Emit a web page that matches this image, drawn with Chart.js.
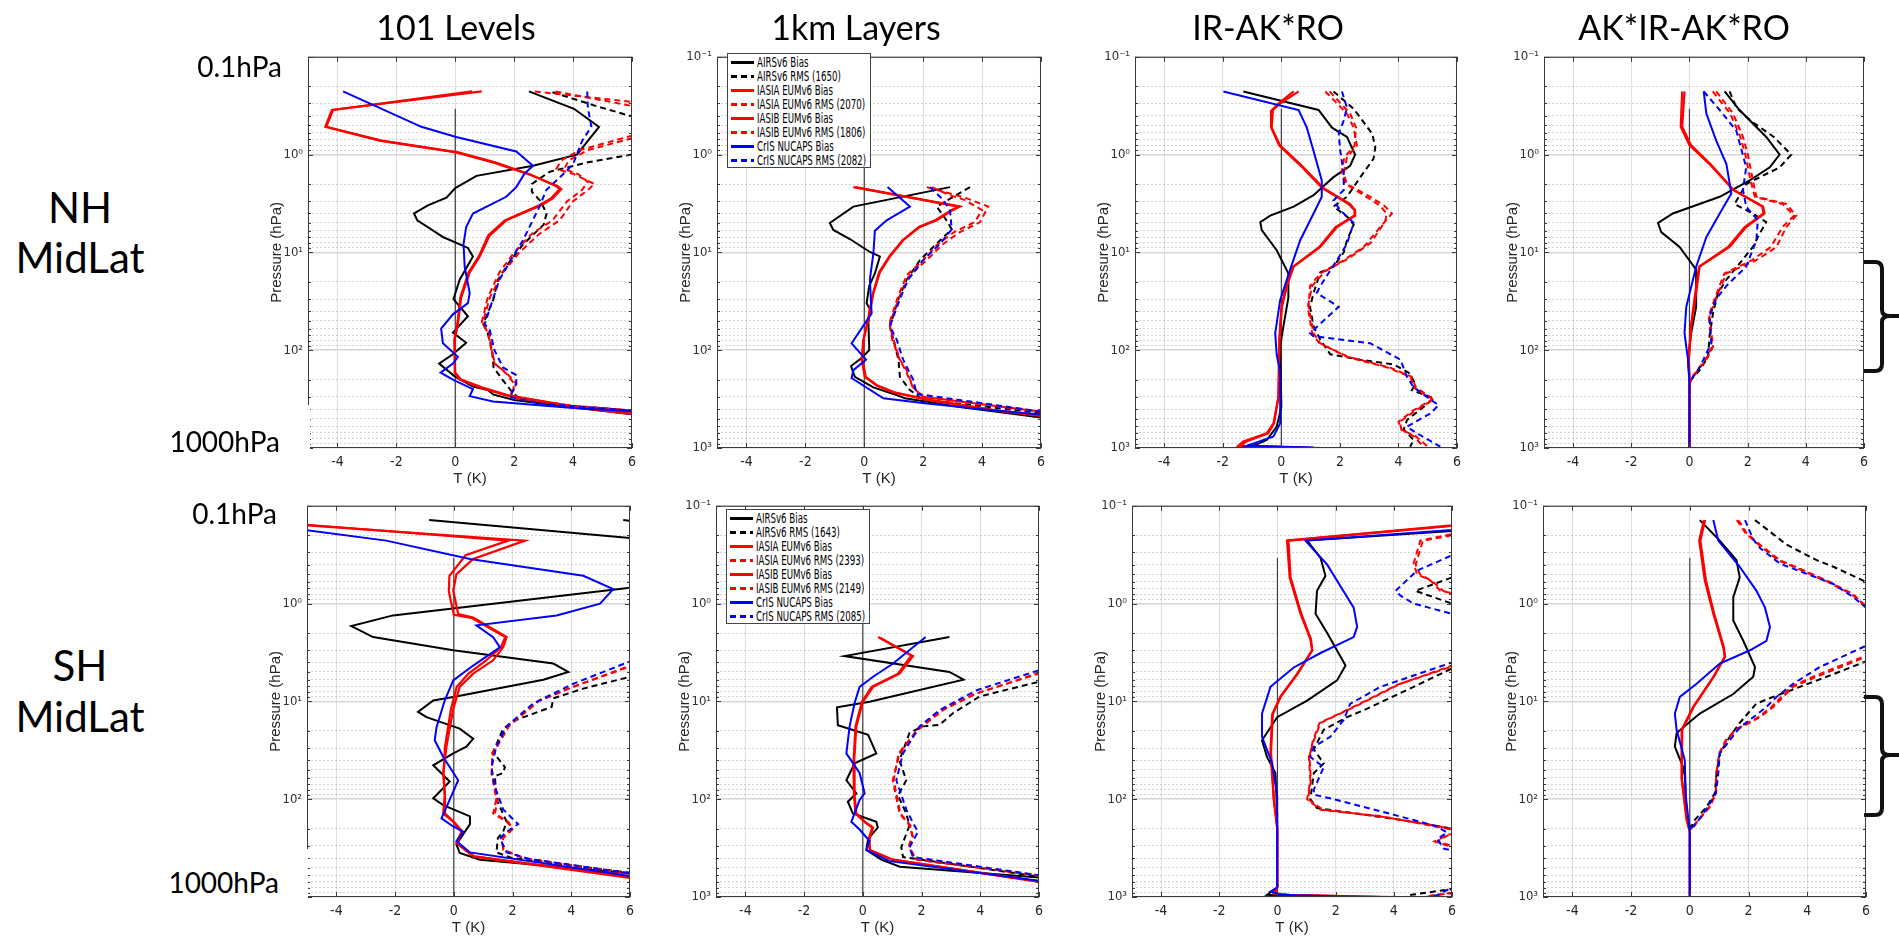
<!DOCTYPE html>
<html lang="en">
<head>
<meta charset="UTF-8">
<title>Temperature Bias and RMS Profiles</title>
<script src="https://cdn.jsdelivr.net/npm/chart.js"></script>
<style>
  body { margin: 0; background: #fff; }
  #fig { position: relative; width: 1899px; height: 938px; overflow: hidden; font-family: Lato, 'Open Sans', sans-serif; }
  .lbl { position: absolute; color: #000; white-space: nowrap; line-height: 1; z-index: 3; }
  .colTitle { font-size: 34px; transform: translate(-50%, -50%); }
  .rowLbl { font-size: 42px; transform: translate(-50%, -50%); }
  .hpa { font-size: 28px; transform: translate(-100%, -50%); background: #fff; }
  .cover { position: absolute; background: #fff; z-index: 2; }
  .legend { position: absolute; width: 144px; height: 115px; box-sizing: border-box; border: 1.5px solid #444; background: #fff; z-index: 4; padding-top: 1px; }
  .lrow { height: 14px; position: relative; }
  .sw { position: absolute; left: 3px; top: 6px; width: 23px; height: 2.5px; }
  .ltxt { position: absolute; left: 29px; top: 0; line-height: 14px; font-size: 13.5px; color: #000; white-space: nowrap; transform-origin: 0 50%;
          font-family: 'Liberation Sans Narrow', 'Arial Narrow', 'DejaVu Sans Condensed', 'Liberation Sans', sans-serif; }
  svg.br { position: absolute; left: 0; top: 0; z-index: 5; }
</style>
</head>
<body>
<div id="fig"></div>

<script>
  // ---- data: [T (K), pressure (hPa)] pairs ----
  const xTicks = [-4, -2, 0, 2, 4, 6];
  const seriesNames = ['AIRSv6 Bias', 'AIRSv6 RMS', 'IASIA EUMv6 Bias', 'IASIA EUMv6 RMS',
                       'IASIB EUMv6 Bias', 'IASIB EUMv6 RMS', 'CrIS NUCAPS Bias', 'CrIS NUCAPS RMS'];
  const nhCounts = [null, 1650, null, 2070, null, 1806, null, 2082];
  const shCounts = [null, 1643, null, 2393, null, 2149, null, 2085];
  const columnTitles = ['101 Levels', '1km Layers', 'IR-AK*RO', 'AK*IR-AK*RO'];
  const zeroLine = [[0, 0.34], [0, 1000]];

  // NH MidLat, 101 Levels
  const nhLevAirsBias = [[2.5,0.226],[4.03,0.34],[4.88,0.52],[4.13,1.0],[2.64,1.3],[0.72,1.65],[0.0,2.2],[-0.3,2.75],[-0.93,3.3],[-1.4,4.0],[-1.29,4.7],[-0.4,7.0],[0.43,9.0],[0.6,11],[0.15,19],[-0.06,30],[0.43,45],[-0.08,66],[0.37,84],[-0.08,110],[-0.55,137],[-0.02,185],[0.6,235],[1.1,255],[1.3,285],[2.0,323],[4.0,385],[6.5,470]];
  const nhLevAirsRms = [[3.3,0.23],[4.8,0.32],[6.5,0.45],[7.5,0.7],[6.0,1.0],[4.5,1.2],[3.2,1.5],[2.6,2.0],[2.6,2.4],[2.9,3.0],[3.1,4.0],[3.0,5.2],[2.3,8.3],[1.8,13],[1.45,19],[1.3,30],[0.95,54],[1.1,67],[1.25,100],[1.3,150],[1.6,200],[1.9,260],[2.2,320],[4.0,375],[6.5,430]];
  const nhLevIasiaBias = [[0.9,0.226],[-4.19,0.35],[-4.41,0.52],[-2.57,0.72],[0.03,0.95],[1.28,1.2],[2.52,1.6],[3.48,2.1],[3.6,2.25],[3.31,2.8],[2.92,3.3],[1.73,4.7],[1.17,6.7],[0.83,11],[0.49,16],[0.2,29],[0.09,54],[-0.02,78],[-0.02,170],[0.15,200],[0.83,240],[1.73,290],[4.0,380],[6.5,470]];
  const nhLevIasiaRms = [[2.7,0.226],[6.5,0.3],[8,0.45],[6.0,0.64],[4.22,0.9],[3.6,1.15],[3.43,1.4],[4.0,1.57],[4.73,2.0],[4.5,2.3],[4.0,3.0],[3.54,4.7],[2.86,6.45],[2.18,10],[1.62,16],[1.17,29],[0.94,52],[1.17,67],[1.22,92],[1.33,137],[1.73,170],[2.07,219],[1.9,280],[2.07,310],[4.0,370],[6.5,425]];
  const nhLevIasibBias = [[0.57,0.226],[-4.15,0.35],[-4.38,0.52],[-2.5,0.72],[0.1,0.95],[1.35,1.2],[2.55,1.6],[3.42,2.1],[3.55,2.25],[3.25,2.8],[2.85,3.3],[1.68,4.7],[1.12,6.7],[0.8,11],[0.45,16],[0.17,29],[0.07,54],[-0.03,78],[0.0,170],[0.2,200],[0.9,240],[1.8,290],[4.1,380],[6.5,465]];
  const nhLevIasibRms = [[3.4,0.226],[6.5,0.34],[8,0.5],[6.0,0.68],[4.5,0.9],[3.85,1.15],[3.7,1.4],[4.2,1.6],[4.5,1.9],[4.3,2.3],[3.8,3.0],[3.3,4.7],[2.6,6.45],[2.0,10],[1.5,16],[1.1,29],[0.9,52],[1.12,67],[1.2,92],[1.35,137],[1.7,170],[2.0,219],[1.95,280],[2.1,310],[4.0,370],[6.5,425]];
  const nhLevCrisBias = [[-3.81,0.226],[-2.91,0.3],[-1.15,0.52],[0.03,0.66],[2.07,0.93],[2.64,1.3],[2.35,1.57],[2.07,2.15],[1.73,2.7],[0.6,4.0],[0.37,5.5],[0.28,8.2],[0.32,14],[0.49,26],[0.43,33],[-0.08,43],[-0.48,60],[-0.42,85],[0.09,117],[-0.08,137],[-0.5,170],[-0.08,200],[0.6,250],[0.49,295],[1.28,335],[4.0,390],[6.5,430]];
  const nhLevCrisRms = [[4.48,0.226],[4.5,0.33],[4.62,0.52],[4.31,0.72],[4.0,1.25],[3.65,1.6],[3.09,2.3],[2.86,3.4],[2.3,7.5],[1.96,11],[1.5,19],[1.28,30],[1.0,54],[1.17,62],[1.33,100],[1.62,150],[2.07,180],[2.07,225],[1.84,300],[2.86,350],[6.5,425]];

  // NH MidLat, 1km Layers
  const nhLayAirsBias = [[2.91,2.15],[-0.37,3.4],[-1.17,5.0],[-1.05,5.9],[-0.49,7.3],[0.19,9.9],[0.53,11],[0.36,16.4],[0.17,22],[0.08,33],[0.19,38],[0.14,53],[0.17,100],[-0.09,120],[-0.45,145],[-0.32,187],[0.31,240],[0.99,280],[1.38,310],[3.25,380],[6.5,510]];
  const nhLayAirsRms = [[3.59,2.15],[2.46,3.4],[2.75,4.5],[2.97,5.8],[2.34,8.8],[1.89,12],[1.44,19],[1.16,30],[0.87,57],[0.99,78],[1.16,125],[1.21,187],[1.55,256],[2.0,320],[6.5,455]];
  const nhLayIasiaBias = [[-0.37,2.15],[3.25,3.4],[3.0,3.7],[2.46,4.7],[1.89,5.5],[1.32,7.5],[0.87,11],[0.53,16],[0.31,26],[0.14,49],[-0.03,78],[-0.09,125],[0.02,187],[0.42,230],[0.99,270],[2.12,320],[4.38,410],[6.5,490]];
  const nhLayIasiaRms = [[2.12,2.15],[2.91,2.5],[3.48,2.8],[4.21,3.4],[3.93,4.9],[3.25,6.2],[2.68,8.2],[2.12,12],[1.55,17],[1.21,28],[0.87,53],[0.99,78],[1.21,125],[1.44,160],[1.66,240],[2.0,300],[6.5,445]];
  const nhLayIasibBias = [[-0.3,2.15],[3.2,3.4],[2.95,3.7],[2.4,4.7],[1.85,5.5],[1.3,7.5],[0.85,11],[0.5,16],[0.3,26],[0.12,49],[-0.02,78],[-0.06,125],[0.05,187],[0.45,230],[1.02,270],[2.15,320],[4.4,410],[6.5,485]];
  const nhLayIasibRms = [[2.3,2.15],[2.9,2.6],[3.4,2.9],[4.0,3.7],[3.75,4.9],[3.05,6.2],[2.5,8.2],[2.0,12],[1.45,17],[1.15,28],[0.85,53],[0.95,78],[1.2,125],[1.4,160],[1.65,240],[2.0,300],[6.5,445]];
  const nhLayCrisBias = [[0.79,2.15],[1.55,3.4],[0.76,4.7],[0.36,6.0],[0.31,10.2],[0.19,19],[0.25,42],[-0.43,85],[0.06,125],[-0.37,160],[-0.43,193],[0.65,310],[2.12,350],[4.38,410],[6.5,470]];
  const nhLayCrisRms = [[2.23,2.15],[2.68,2.9],[2.91,3.7],[2.97,5.8],[2.57,8.2],[2.0,12],[1.49,19],[1.21,30],[0.87,57],[1.1,78],[1.32,125],[1.66,200],[1.78,280],[6.5,445]];

  // NH MidLat, IR-AK*RO
  const nhIrAirsBias = [[-1.3,0.226],[1.27,0.35],[1.73,0.53],[2.24,0.66],[2.52,1.0],[2.35,1.3],[1.78,1.7],[1.1,2.6],[0.42,3.4],[-0.38,4.2],[-0.72,4.9],[-0.67,5.9],[-0.16,9.5],[0.24,16.4],[0.24,29],[0.07,57],[-0.04,92],[0.0,380],[-0.16,606],[-0.5,828],[-0.95,950],[0.5,990],[1.4,1000]];
  const nhIrAirsRms = [[1.78,0.226],[2.47,0.34],[3.1,0.61],[3.21,0.84],[3.15,1.1],[2.7,1.7],[2.24,2.7],[1.78,3.4],[2.24,4.3],[2.47,5.2],[2.24,7.55],[2.13,10],[1.78,14],[1.33,16],[1.1,26],[0.98,36],[1.1,57],[1.33,78],[1.67,110],[2.7,125],[3.84,140],[4.35,170],[4.58,219],[4.46,256],[5.2,310],[4.86,380],[4.29,518],[4.18,650],[4.52,828],[4.4,970]];
  const nhIrIasiaBias = [[0.59,0.226],[-0.04,0.3],[-0.29,0.35],[-0.33,0.53],[-0.04,0.81],[0.64,1.25],[1.44,2.2],[2.35,3.2],[2.52,3.7],[2.52,4.2],[1.9,5.5],[1.33,8.8],[0.42,14],[0.19,22],[0.02,36],[-0.06,78],[-0.1,300],[-0.27,560],[-0.5,708],[-1.3,860],[-1.47,950],[0.0,980],[1.1,1000]];
  const nhIrIasiaRms = [[1.5,0.226],[2.24,0.38],[2.47,0.53],[2.58,0.81],[2.24,1.07],[2.13,1.57],[2.24,2.0],[3.04,2.7],[3.5,3.3],[3.78,4.0],[3.38,5.5],[2.81,8.8],[2.13,12],[1.33,16.4],[0.98,22],[0.93,36],[1.1,67],[1.33,85],[2.24,117],[3.61,150],[4.41,187],[4.52,240],[5.15,320],[4.52,410],[4.0,540],[4.12,650],[4.52,760],[4.86,970]];
  const nhIrIasibBias = [[0.42,0.226],[-0.1,0.3],[-0.32,0.35],[-0.35,0.53],[-0.07,0.81],[0.6,1.25],[1.4,2.2],[2.3,3.2],[2.5,3.7],[2.5,4.2],[1.85,5.5],[1.3,8.8],[0.4,14],[0.17,22],[0.0,36],[-0.07,78],[-0.1,300],[-0.25,560],[-0.45,708],[-1.2,860],[-1.4,950],[0.1,980],[1.0,1000]];
  const nhIrIasibRms = [[1.65,0.226],[2.35,0.38],[2.55,0.53],[2.5,0.81],[2.15,1.07],[2.05,1.57],[2.2,2.0],[2.9,2.7],[3.35,3.3],[3.6,4.0],[3.55,4.8],[3.05,8.0],[2.3,11.5],[1.5,15.5],[1.05,22],[0.9,36],[1.05,67],[1.3,85],[2.3,117],[3.7,150],[4.45,187],[4.6,240],[5.2,320],[4.6,410],[4.05,540],[4.1,650],[4.6,760],[5.0,970]];
  const nhIrCrisBias = [[-1.98,0.226],[0.59,0.35],[0.87,0.53],[1.1,0.92],[1.38,1.84],[1.38,2.7],[1.1,4.0],[0.64,7.55],[0.3,15],[-0.04,30.6],[-0.21,67],[-0.16,110],[-0.04,170],[-0.04,560],[-0.27,760],[-1.18,950],[1.1,990]];
  const nhIrCrisRms = [[2.07,0.226],[2.24,0.33],[2.13,0.45],[1.96,0.61],[2.01,0.9],[2.13,1.57],[2.13,2.3],[1.78,2.95],[2.01,3.7],[2.47,5.0],[2.24,8.2],[1.9,12],[1.33,22],[1.21,26],[1.96,36],[0.98,67],[1.1,72],[3.04,85],[4.07,125],[4.29,187],[4.52,240],[5.37,365],[5.09,443],[4.29,606],[4.63,708],[5.43,970]];

  // NH MidLat, AK*IR-AK*RO
  const nhAkAirsBias = [[1.21,0.226],[1.72,0.35],[2.64,0.66],[3.1,1.0],[2.76,1.35],[2.07,1.84],[1.04,2.7],[-0.57,4.0],[-1.08,5.0],[-0.97,6.2],[-0.34,8.8],[0.23,15],[0.23,36],[0.06,67],[-0.05,125],[0.0,200],[0.0,1000]];
  const nhAkAirsRms = [[1.38,0.226],[1.61,0.33],[2.1,0.45],[2.9,0.66],[3.5,1.0],[3.1,1.35],[1.95,2.0],[1.55,3.2],[2.18,4.0],[2.64,4.9],[2.41,6.45],[2.18,8.8],[1.72,13],[1.27,19],[0.98,26],[0.81,42],[0.69,72],[0.64,117],[0.35,160],[0.06,200]];
  const nhAkIasiaBias = [[-0.25,0.226],[-0.3,0.52],[0.0,0.8],[0.69,1.25],[1.5,2.3],[2.53,3.4],[2.58,4.0],[1.95,5.5],[1.38,8.8],[0.35,14],[0.23,26],[0.06,57],[-0.02,125],[0.0,200],[0.0,1000]];
  const nhAkIasiaRms = [[0.92,0.226],[1.5,0.38],[1.84,0.66],[2.01,1.0],[2.18,1.84],[2.3,2.7],[3.33,3.2],[3.67,4.2],[3.33,5.5],[2.99,8.8],[2.3,12],[1.27,16.4],[0.92,29],[0.69,45],[0.81,92],[0.58,125],[0.12,187],[0.0,219]];
  const nhAkIasibBias = [[-0.17,0.226],[-0.25,0.52],[0.05,0.8],[0.72,1.25],[1.52,2.3],[2.5,3.4],[2.55,4.0],[1.9,5.5],[1.33,8.8],[0.33,14],[0.2,26],[0.05,57],[-0.03,125],[0.0,200],[0.0,1000]];
  const nhAkIasibRms = [[0.8,0.226],[1.4,0.38],[1.75,0.66],[1.92,1.0],[2.1,1.84],[2.25,2.7],[3.2,3.2],[3.6,4.2],[3.2,5.5],[2.8,8.8],[2.15,12],[1.2,16.4],[0.88,29],[0.66,45],[0.78,92],[0.55,125],[0.1,187],[0.0,219]];
  const nhAkCrisBias = [[0.49,0.226],[0.58,0.38],[0.92,0.72],[1.27,1.25],[1.44,2.5],[1.04,4.0],[0.58,7.0],[0.23,14],[-0.11,36],[-0.17,67],[-0.05,125],[0.0,219],[0.0,1000]];
  const nhAkCrisRms = [[0.49,0.226],[1.04,0.35],[1.61,0.57],[1.95,1.35],[1.84,2.3],[1.95,3.4],[2.35,4.7],[2.3,7.55],[1.95,14],[1.27,22],[0.92,30],[0.69,45],[0.75,85],[0.35,150],[0.06,200]];

  // SH MidLat, 101 Levels
  const shLevAirsBias = [[-0.84,0.14],[6.0,0.214],[9,0.4],[6.0,0.69],[-2.07,1.32],[-3.49,1.7],[-2.75,2.2],[-0.02,3.0],[3.39,4.1],[3.9,5.0],[3.05,6.0],[-0.02,9.0],[-0.7,9.8],[-1.22,12.8],[-0.93,14.5],[0.2,19],[0.66,24],[0.43,29],[-0.02,34],[-0.7,45],[-0.14,66],[-0.7,98],[-0.36,115],[0.55,150],[0.55,180],[0.09,290],[0.2,355],[0.89,415],[6.5,590]];
  const shLevAirsRms = [[5.77,0.14],[7.5,0.16],[9,0.5],[9,2],[7.5,4.5],[6.0,5.6],[4.41,7.4],[3.39,9.3],[3.33,11.4],[2.14,15.4],[1.68,19],[1.34,33],[1.74,47],[1.68,54],[1.4,58],[1.45,100],[1.8,170],[1.68,215],[1.5,250],[1.45,350],[2.0,400],[6.5,590]];
  const shLevIasiaBias = [[-5.5,0.155],[2.42,0.227],[0.66,0.35],[0.09,0.5],[-0.02,0.74],[0.15,1.28],[0.66,1.39],[1.8,2.2],[1.68,2.8],[1.34,3.8],[0.66,5.2],[0.2,7.1],[-0.02,12],[-0.25,29],[-0.36,54],[-0.31,92],[-0.36,140],[-0.02,170],[0.26,215],[0.09,280],[0.66,385],[6.5,670]];
  const shLevIasiaRms = [[9,2],[7.5,3.6],[6.0,4.3],[4.07,7.1],[2.93,9.8],[1.9,17.5],[1.34,34],[1.28,54],[1.45,100],[1.34,140],[1.8,170],[2.02,200],[1.68,250],[1.68,330],[2.36,400],[6.5,610]];
  const shLevIasibBias = [[-5.5,0.152],[1.85,0.227],[0.4,0.32],[-0.15,0.52],[-0.17,0.75],[0.0,1.3],[0.6,1.4],[1.75,2.2],[1.6,2.8],[1.1,3.8],[0.5,5.2],[0.1,7.1],[-0.1,12],[-0.3,29],[-0.35,54],[-0.3,92],[-0.3,140],[0.0,170],[0.3,215],[0.1,280],[0.7,385],[6.5,650]];
  const shLevIasibRms = [[9,2],[7.5,3.7],[6.0,4.4],[4.0,7.2],[2.85,10],[1.85,17.5],[1.3,34],[1.3,54],[1.5,100],[1.4,140],[1.85,170],[2.0,200],[1.6,250],[1.7,330],[2.4,400],[6.5,610]];
  const shLevCrisBias = [[-5.5,0.17],[-2.3,0.227],[0.55,0.35],[4.41,0.52],[5.43,0.71],[4.98,1.0],[3.5,1.32],[0.77,1.67],[1.34,2.2],[1.57,2.8],[0.66,4.3],[-0.02,6.1],[-0.31,9.8],[-0.59,18.5],[-0.65,25],[-0.36,37],[0.15,64],[-0.08,92],[-0.42,157],[-0.02,190],[0.32,215],[0.09,268],[0.55,350],[6.5,640]];
  const shLevCrisRms = [[9,2],[7.5,3.3],[6.0,3.9],[4.07,6.6],[2.7,10.5],[1.8,18],[1.45,29],[1.28,47],[1.4,75],[1.68,127],[2.19,180],[1.8,215],[1.57,250],[1.8,350],[2.59,410],[6.5,600]];

  // SH MidLat, 1km Layers
  const shLayAirsBias = [[2.95,2.2],[-0.62,3.44],[2.95,5.0],[3.43,6.0],[0.23,10.1],[-0.88,11.5],[-0.85,17.5],[0.18,22],[0.46,34],[-0.28,43],[-0.56,64],[-0.22,87],[-0.51,106],[-0.34,140],[0.46,170],[0.51,195],[0.18,255],[0.12,330],[0.63,415],[1.26,490],[6.5,650]];
  const shLayAirsRms = [[9,2],[8,5],[6.0,6.3],[3.98,8.9],[3.07,13.2],[2.61,17.4],[2.04,18],[1.59,21],[1.25,40],[1.48,64],[1.2,92],[1.48,140],[1.59,185],[1.31,310],[1.37,390],[6.5,650]];
  const shLayIasiaBias = [[0.52,2.2],[1.71,3.44],[1.25,5.2],[0.35,7.1],[0.0,10.1],[-0.22,18],[-0.3,43],[-0.28,92],[-0.22,140],[0.12,175],[0.35,195],[0.23,255],[0.23,330],[1.03,415],[6.5,740]];
  const shLayIasiaRms = [[9,2],[8,4],[6.0,5.1],[3.87,8.3],[2.73,12.3],[1.93,19],[1.25,34],[1.02,64],[1.25,140],[1.59,185],[1.71,240],[1.59,310],[1.82,415],[6.5,630]];
  const shLayIasibBias = [[0.6,2.25],[1.65,3.4],[1.2,5.2],[0.3,7.1],[-0.03,10.1],[-0.25,18],[-0.32,43],[-0.3,92],[-0.25,140],[0.1,175],[0.32,195],[0.2,255],[0.25,330],[1.0,415],[6.5,730]];
  const shLayIasibRms = [[9,2],[8,4.1],[6.0,5.2],[3.8,8.4],[2.65,12.4],[1.88,19],[1.22,34],[1.05,64],[1.28,140],[1.62,185],[1.68,240],[1.55,310],[1.85,415],[6.5,630]];
  const shLayCrisBias = [[2.14,2.2],[1.03,4.1],[0.35,5.6],[-0.11,7.1],[-0.28,10.4],[-0.45,18],[-0.56,34],[-0.11,54],[0.06,87],[-0.11,102],[-0.39,170],[-0.11,204],[0.23,268],[0.12,330],[0.91,430],[6.5,715]];
  const shLayCrisRms = [[9,2],[8,3.8],[6.0,4.8],[3.87,7.7],[2.61,12.3],[1.93,18],[1.37,34],[1.14,64],[1.48,127],[1.71,175],[1.88,215],[1.59,310],[1.71,390],[6.5,630]];

  // SH MidLat, IR-AK*RO
  const shIrAirsBias = [[8,0.165],[1.02,0.227],[1.48,0.34],[1.65,0.52],[1.36,0.74],[1.31,1.27],[1.71,2.0],[2.34,4.3],[2.05,6.1],[1.02,9.8],[-0.01,14.5],[-0.53,25],[-0.36,37],[-0.07,54],[-0.01,140],[-0.01,800],[-0.36,950],[0.68,980],[4.23,1000]];
  const shIrAirsRms = [[8,0.4],[6.0,0.54],[4.74,0.74],[6.0,1.0],[8,1.5],[9,3],[7.5,4.2],[6.0,4.6],[4.68,7.1],[2.97,12.3],[2.39,14.5],[1.59,19.5],[1.25,31],[1.59,43],[1.25,54],[1.13,100],[1.36,123],[4.68,170],[6.0,200],[8,300],[8,700],[6.0,830],[4.6,950],[4.4,1000]];
  const shIrIasiaBias = [[8,0.14],[0.33,0.227],[0.42,0.54],[0.79,1.27],[1.13,2.3],[1.19,3.0],[0.68,5.2],[0.1,8.9],[-0.18,13.5],[-0.24,33],[-0.13,100],[-0.01,200],[-0.01,800],[-0.13,920],[0.33,950],[3.54,1000]];
  const shIrIasiaRms = [[8,0.15],[6.0,0.195],[4.91,0.227],[4.68,0.39],[4.8,0.5],[5.26,0.58],[5.6,0.74],[6.0,0.78],[8,1.5],[9,3],[7.5,3.8],[6.0,4.3],[4.23,6.6],[2.62,11.5],[1.48,16.6],[1.25,25],[1.08,37],[1.13,64],[1.02,100],[1.48,128],[3.54,150],[6.0,200],[7,215],[5.9,230],[5.4,270],[6.0,310],[8,400],[8,700],[6.0,920],[5.3,960],[5.2,1000]];
  const shIrIasibBias = [[8,0.142],[0.38,0.227],[0.45,0.54],[0.82,1.27],[1.15,2.3],[1.2,3.0],[0.7,5.2],[0.12,8.9],[-0.16,13.5],[-0.22,33],[-0.12,100],[0.0,200],[0.0,800],[-0.1,920],[0.4,950],[3.7,1000]];
  const shIrIasibRms = [[8,0.15],[6.0,0.2],[5.0,0.227],[4.75,0.4],[4.9,0.5],[5.35,0.6],[5.7,0.74],[6.0,0.8],[8,1.5],[9,3],[7.5,3.9],[6.0,4.4],[4.15,6.7],[2.55,11.6],[1.45,16.6],[1.22,25],[1.1,37],[1.15,64],[1.05,100],[1.55,128],[3.6,150],[6.0,205],[7,215],[5.85,235],[5.5,270],[6.0,300],[8,400],[8,700],[6.0,900],[5.4,960],[5.3,1000]];
  const shIrCrisBias = [[8,0.16],[0.96,0.227],[1.71,0.4],[2.62,1.1],[2.74,1.73],[2.62,2.2],[1.48,3.2],[0.56,4.5],[-0.24,7.1],[-0.53,13.3],[-0.53,23],[-0.18,43],[-0.01,92],[-0.01,800],[-0.24,880],[0.1,950],[2.85,1000]];
  const shIrCrisRms = [[8,0.28],[6.0,0.32],[4.8,0.46],[4.06,0.74],[4.23,0.83],[4.68,1.0],[6.0,1.27],[8,1.8],[9,3],[7.5,3.6],[6.0,4.0],[3.54,7.1],[2.5,10.6],[2.28,15.4],[1.82,23],[1.25,29],[1.13,37],[1.59,47],[1.25,80],[1.25,90],[1.94,100],[4.68,163],[5.49,190],[5.83,220],[5.49,255],[5.72,320],[6.0,335],[8,450],[8,700],[6.0,800],[5.5,960],[5.1,1000]];

  // SH MidLat, AK*IR-AK*RO
  const shAkAirsBias = [[0.34,0.14],[1.02,0.227],[1.59,0.36],[1.7,0.54],[1.48,0.86],[1.48,1.49],[1.82,2.4],[2.22,4.45],[2.16,5.6],[1.48,8.4],[0.34,13.3],[-0.45,21],[-0.51,29],[-0.23,47],[-0.17,58],[-0.11,140],[0.0,190],[0.0,1000]];
  const shAkAirsRms = [[2.22,0.14],[3.3,0.25],[4.32,0.36],[4.89,0.42],[6.0,0.6],[8,1.2],[8,3],[6.0,3.9],[4.66,5.6],[3.75,7.1],[2.84,9.0],[2.27,10.5],[1.7,16.6],[1.36,23],[1.02,34],[0.91,54],[0.85,87],[0.57,120],[0.17,163],[0.0,205]];
  const shAkIasiaBias = [[0.48,0.14],[0.32,0.227],[0.51,0.58],[0.8,1.27],[1.14,2.8],[1.19,3.5],[0.8,5.6],[0.11,11.4],[-0.28,19.5],[-0.28,62],[-0.11,163],[0.0,215],[0.0,1000]];
  const shAkIasiaRms = [[1.65,0.14],[1.93,0.19],[2.39,0.25],[3.07,0.36],[3.75,0.44],[4.66,0.58],[5.57,0.8],[6.0,1.1],[8,2],[6.0,3.5],[4.32,5.6],[3.52,7.1],[2.84,11.4],[2.39,14.5],[1.59,19.5],[1.25,25],[1.02,34],[0.91,54],[0.89,87],[0.68,120],[0.23,175],[0.06,205]];
  const shAkIasibBias = [[0.52,0.14],[0.36,0.227],[0.55,0.58],[0.83,1.27],[1.16,2.8],[1.2,3.5],[0.82,5.6],[0.13,11.4],[-0.26,19.5],[-0.27,62],[-0.1,163],[0.0,215],[0.0,1000]];
  const shAkIasibRms = [[1.6,0.14],[1.9,0.19],[2.35,0.25],[3.0,0.36],[3.7,0.44],[4.6,0.58],[5.5,0.8],[6.0,1.05],[8,2],[6.0,3.4],[4.25,5.5],[3.45,7.1],[2.78,11.4],[2.33,14.5],[1.55,19.5],[1.22,25],[1.0,34],[0.9,54],[0.88,87],[0.66,120],[0.2,175],[0.04,205]];
  const shAkCrisBias = [[0.8,0.14],[0.97,0.227],[1.7,0.42],[2.27,0.74],[2.56,1.1],[2.73,1.73],[2.61,2.4],[2.05,3.0],[1.02,4.1],[0.23,6.6],[-0.34,9.0],[-0.51,13.3],[-0.45,19.5],[-0.17,40],[-0.14,92],[0.0,215],[0.0,1000]];
  const shAkCrisRms = [[1.88,0.14],[2.16,0.22],[2.39,0.27],[3.07,0.39],[4.89,0.63],[5.57,0.86],[6.0,1.1],[8,2],[6.0,2.7],[4.43,4.45],[3.52,6.6],[2.95,9.0],[2.61,11.4],[2.16,14.5],[1.7,18.5],[1.36,25],[1.02,34],[0.97,54],[0.89,87],[0.57,125],[0.23,175],[0.0,205]];

  // series order matches seriesNames
  const nhLev = [nhLevAirsBias, nhLevAirsRms, nhLevIasiaBias, nhLevIasiaRms, nhLevIasibBias, nhLevIasibRms, nhLevCrisBias, nhLevCrisRms];
  const nhLay = [nhLayAirsBias, nhLayAirsRms, nhLayIasiaBias, nhLayIasiaRms, nhLayIasibBias, nhLayIasibRms, nhLayCrisBias, nhLayCrisRms];
  const nhIr  = [nhIrAirsBias, nhIrAirsRms, nhIrIasiaBias, nhIrIasiaRms, nhIrIasibBias, nhIrIasibRms, nhIrCrisBias, nhIrCrisRms];
  const nhAk  = [nhAkAirsBias, nhAkAirsRms, nhAkIasiaBias, nhAkIasiaRms, nhAkIasibBias, nhAkIasibRms, nhAkCrisBias, nhAkCrisRms];
  const shLev = [shLevAirsBias, shLevAirsRms, shLevIasiaBias, shLevIasiaRms, shLevIasibBias, shLevIasibRms, shLevCrisBias, shLevCrisRms];
  const shLay = [shLayAirsBias, shLayAirsRms, shLayIasiaBias, shLayIasiaRms, shLayIasibBias, shLayIasibRms, shLayCrisBias, shLayCrisRms];
  const shIr  = [shIrAirsBias, shIrAirsRms, shIrIasiaBias, shIrIasiaRms, shIrIasibBias, shIrIasibRms, shIrCrisBias, shIrCrisRms];
  const shAk  = [shAkAirsBias, shAkAirsRms, shAkIasiaBias, shAkIasiaRms, shAkIasibBias, shAkIasibRms, shAkCrisBias, shAkCrisRms];

  // ---- styles / layout ----
  const seriesStyle = [
    { color: '#000000', dash: [], width: 2 },
    { color: '#000000', dash: [6, 4], width: 2 },
    { color: '#ff0000', dash: [], width: 2.2 },
    { color: '#ff0000', dash: [6, 4], width: 2 },
    { color: '#ff0000', dash: [], width: 2.2 },
    { color: '#ff0000', dash: [6, 4], width: 2 },
    { color: '#0000ff', dash: [], width: 2 },
    { color: '#0000ff', dash: [6, 4], width: 2 }
  ];
  const YW = 40, PT = 12, PR = 10, XH = 40;
  const tickFont = "'Liberation Sans Narrow', 'Arial Narrow', 'DejaVu Sans Condensed', 'Liberation Sans', sans-serif";
  const supers = { '-1': '10\u207B\u00B9', '0': '10\u2070', '1': '10\u00B9', '2': '10\u00B2', '3': '10\u00B3' };

  const yTickValues = [];
  for (let d = -1; d <= 2; d++) {
    for (let m = 1; m <= 9; m++) yTickValues.push(Number((m * Math.pow(10, d)).toPrecision(3)));
  }
  yTickValues.push(1000);
  const isDecade = v => Math.abs(Math.log10(v) - Math.round(Math.log10(v))) < 1e-6;

  const fig = document.getElementById('fig');

  // box around the axes with inward ticks, like the original plots
  const framePlugin = {
    id: 'frame',
    afterDraw(chart) {
      const { ctx, chartArea: a, scales } = chart;
      ctx.save();
      ctx.strokeStyle = '#3a3a3a';
      ctx.lineWidth = 1;
      ctx.strokeRect(a.left + 0.5, a.top + 0.5, a.width - 1, a.height - 1);
      ctx.beginPath();
      xTicks.forEach(v => {
        const x = Math.round(scales.x.getPixelForValue(v)) + 0.5;
        ctx.moveTo(x, a.bottom); ctx.lineTo(x, a.bottom - 5);
        ctx.moveTo(x, a.top); ctx.lineTo(x, a.top + 5);
      });
      yTickValues.forEach(v => {
        const y = Math.round(scales.y.getPixelForValue(v)) + 0.5;
        const len = isDecade(v) ? 5 : 3;
        ctx.moveTo(a.left, y); ctx.lineTo(a.left + len, y);
        ctx.moveTo(a.right, y); ctx.lineTo(a.right - len, y);
      });
      ctx.stroke();
      ctx.restore();
    }
  };

  function makePanel(p) {
    const W = YW + p.box.w + PR, H = PT + p.box.h + XH;
    const cv = document.createElement('canvas');
    cv.width = W; cv.height = H;
    cv.style.cssText = 'position:absolute;left:' + (p.box.l - YW) + 'px;top:' + (p.box.t - PT) + 'px;width:' + W + 'px;height:' + H + 'px;';
    fig.appendChild(cv);

    const datasets = [];
    // first dataset is drawn on top, so go backwards (CrIS on top, AIRS below)
    for (let i = p.series.length - 1; i >= 0; i--) {
      const st = seriesStyle[i];
      datasets.push({
        label: seriesNames[i], data: p.series[i], showLine: true, pointRadius: 0,
        borderColor: st.color, borderWidth: st.width, borderDash: st.dash, tension: 0, fill: false
      });
    }
    datasets.push({ label: 'zero', data: zeroLine, showLine: true, pointRadius: 0, borderColor: '#3c3c3c', borderWidth: 1.2 });

    new Chart(cv, {
      type: 'scatter',
      data: { datasets },
      options: {
        responsive: false, animation: false, devicePixelRatio: 1,
        layout: { padding: { top: PT, right: PR, left: 0, bottom: 0 } },
        plugins: { legend: { display: false }, tooltip: { enabled: false } },
        scales: {
          x: {
            type: 'linear', min: -5, max: 6,
            afterBuildTicks: s => { s.ticks = xTicks.map(v => ({ value: v })); },
            afterFit: s => { s.height = XH; },
            grid: { color: '#dedede', lineWidth: 1, drawTicks: false },
            border: { display: false },
            ticks: { color: '#262626', padding: 6, font: { family: tickFont, size: 14 }, autoSkip: false, maxRotation: 0 },
            title: { display: p.col < 3, text: 'T (K)', color: '#262626', padding: 0, font: { family: "'Liberation Sans', Arial, sans-serif", size: 15 } }
          },
          y: {
            type: 'logarithmic', reverse: true, min: 0.1, max: 1000,
            afterBuildTicks: s => { s.ticks = yTickValues.map(v => ({ value: v, major: isDecade(v) })); },
            afterFit: s => { s.width = YW; },
            grid: {
              drawTicks: false,
              color: c => (c.tick && isDecade(c.tick.value)) ? '#d6d6d6' : 'rgba(0,0,0,0.22)',
              lineWidth: c => (c.tick && isDecade(c.tick.value)) ? 1.5 : 0.8
            },
            border: { display: false, dash: c => (c.tick && !isDecade(c.tick.value)) ? [2, 2] : [] },
            ticks: {
              color: '#303030', padding: 5, autoSkip: false, font: { family: tickFont, size: 13 },
              callback: v => {
                if (!isDecade(v)) return '';
                const e = Math.round(Math.log10(v));
                if (p.col === 0 && (e === -1 || e === 3)) return '';
                return supers[String(e)];
              }
            },
            title: { display: true, text: 'Pressure (hPa)', color: '#262626', padding: 0, font: { family: "'Liberation Sans', Arial, sans-serif", size: 15 } }
          }
        }
      },
      plugins: [framePlugin]
    });
  }

  const panels = [
    { box: { l: 308, t: 56, w: 324, h: 392 }, series: nhLev, col: 0 },
    { box: { l: 717, t: 56, w: 324, h: 392 }, series: nhLay, col: 1 },
    { box: { l: 1135, t: 56, w: 322, h: 392 }, series: nhIr, col: 2 },
    { box: { l: 1544, t: 56, w: 320, h: 392 }, series: nhAk, col: 3 },
    { box: { l: 307, t: 505, w: 323, h: 392 }, series: shLev, col: 0 },
    { box: { l: 716, t: 505, w: 323, h: 392 }, series: shLay, col: 1 },
    { box: { l: 1132, t: 505, w: 320, h: 392 }, series: shIr, col: 2 },
    { box: { l: 1543, t: 505, w: 323, h: 392 }, series: shAk, col: 3 }
  ];
  panels.forEach(makePanel);

  // ---- text overlays ----
  function addLabel(cls, text, x, y) {
    const d = document.createElement('div');
    d.className = 'lbl ' + cls;
    d.innerHTML = text;
    d.style.left = x + 'px'; d.style.top = y + 'px';
    fig.appendChild(d);
    return d;
  }
  const titleX = [456, 856, 1268, 1684];
  columnTitles.forEach((t, i) => addLabel('colTitle', t, titleX[i], 27));
  addLabel('rowLbl', 'NH', 80, 207);
  addLabel('rowLbl', 'MidLat', 80, 257);
  addLabel('rowLbl', 'SH', 80, 665);
  addLabel('rowLbl', 'MidLat', 80, 716);

  function addCover(x, y, w, h) {
    const d = document.createElement('div');
    d.className = 'cover';
    d.style.cssText = 'left:' + x + 'px;top:' + y + 'px;width:' + w + 'px;height:' + h + 'px;';
    fig.appendChild(d);
  }
  addCover(150, 405, 159.5, 48);
  addCover(150, 849, 157.5, 53);
  addLabel('hpa', '0.1hPa', 282, 66);
  addLabel('hpa', '1000hPa', 280, 441);
  addLabel('hpa', '0.1hPa', 277, 513);
  addLabel('hpa', '1000hPa', 279, 882);

  function makeLegend(left, top, counts) {
    const box = document.createElement('div');
    box.className = 'legend';
    box.style.left = left + 'px'; box.style.top = top + 'px';
    const texts = [];
    seriesNames.forEach((name, i) => {
      const row = document.createElement('div');
      row.className = 'lrow';
      const sw = document.createElement('span');
      sw.className = 'sw';
      const c = seriesStyle[i].color;
      sw.style.background = seriesStyle[i].dash.length
        ? 'repeating-linear-gradient(90deg,' + c + ' 0 6px, transparent 6px 10px)' : c;
      const tx = document.createElement('span');
      tx.className = 'ltxt';
      tx.textContent = counts[i] ? name + ' (' + counts[i] + ')' : name;
      row.appendChild(sw); row.appendChild(tx);
      box.appendChild(row);
      texts.push(tx);
    });
    fig.appendChild(box);
    let maxW = 0;
    texts.forEach(t => { maxW = Math.max(maxW, t.getBoundingClientRect().width); });
    if (maxW > 109) texts.forEach(t => { t.style.transform = 'scaleX(' + (109 / maxW).toFixed(3) + ')'; });
  }
  makeLegend(727, 53, nhCounts);
  makeLegend(726, 509, shCounts);

  // curly brackets on the right edge
  const svgNS = 'http://www.w3.org/2000/svg';
  const svg = document.createElementNS(svgNS, 'svg');
  svg.setAttribute('class', 'br');
  svg.setAttribute('width', '1899'); svg.setAttribute('height', '938');
  [[262, 316, 371], [697, 755, 815]].forEach(([y0, ym, y1]) => {
    const path = document.createElementNS(svgNS, 'path');
    path.setAttribute('d',
      'M1864,' + y0 + ' L1875,' + y0 + ' Q1882,' + y0 + ' 1882,' + (y0 + 7) +
      ' L1882,' + (ym - 6) + ' Q1882,' + ym + ' 1890,' + ym + ' L1899,' + ym +
      ' M1890,' + ym + ' Q1882,' + ym + ' 1882,' + (ym + 6) +
      ' L1882,' + (y1 - 7) + ' Q1882,' + y1 + ' 1875,' + y1 + ' L1864,' + y1);
    path.setAttribute('fill', 'none');
    path.setAttribute('stroke', '#111');
    path.setAttribute('stroke-width', '4');
    svg.appendChild(path);
  });
  fig.appendChild(svg);
</script>
</body>
</html>
